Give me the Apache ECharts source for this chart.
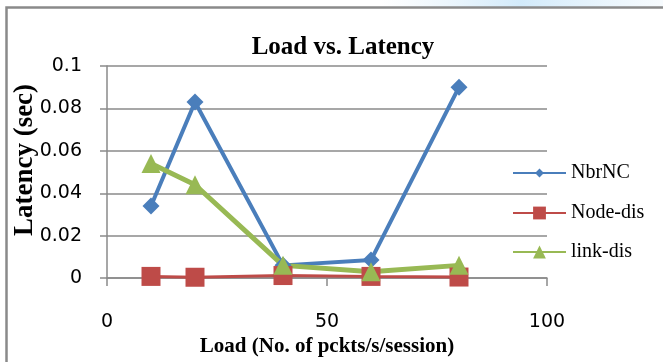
<!DOCTYPE html>
<html>
<head>
<meta charset="utf-8">
<script src="https://cdn.jsdelivr.net/npm/echarts@6/dist/echarts.min.js"></script>
<style>
  html, body { margin: 0; padding: 0; background: #ffffff; }
  #chart { width: 663px; height: 362px; }
</style>
</head>
<body>
<div id="chart"></div>
<script>
// Load (packets/s/session) on the x axis, latency in seconds on the y axis
const loads = [10, 20, 40, 60, 80];
const nbrNC = [0.034, 0.083, 0.006, 0.0085, 0.090];
const nodeDis = [0.0008, 0.0004, 0.0012, 0.0008, 0.0005];
const linkDis = [0.054, 0.044, 0.006, 0.003, 0.006];

const seriesNames = ['NbrNC', 'Node-dis', 'link-dis'];
const xTicks = { min: 0, max: 100, interval: 50 };
const yTicks = { min: 0, max: 0.1, interval: 0.02 };

const GRAY = '#8a8a8a';
const SERIF = '"Liberation Serif", "Times New Roman", serif';
const SANS = '"DejaVu Sans", Arial, sans-serif';

function pairs(ys) { return loads.map((x, i) => [x, ys[i]]); }

const chart = echarts.init(document.getElementById('chart'));

const legendBase = {
  orient: 'vertical',
  left: 507,
  itemWidth: 53,
  textStyle: { fontFamily: SERIF, fontSize: 20, color: '#000' }
};

chart.setOption({
  animation: false,
  backgroundColor: '#ffffff',
  title: {
    text: 'Load vs. Latency',
    left: 338,
    textAlign: 'center',
    top: 30,
    textStyle: { fontFamily: SERIF, fontSize: 25, fontWeight: 'bold', color: '#000' }
  },
  graphic: [
    {
      // faint light-blue glow along the top edge
      type: 'rect',
      shape: { x: 380, y: 0, width: 283, height: 7 },
      style: {
        fill: new echarts.graphic.LinearGradient(0, 0, 1, 0, [
          { offset: 0, color: 'rgba(215,236,250,0)' },
          { offset: 0.5, color: 'rgba(205,232,250,0.9)' },
          { offset: 1, color: 'rgba(215,236,250,0.2)' }
        ])
      },
      silent: true
    },
    {
      // chart frame (top and left edges)
      type: 'polyline',
      shape: { points: [[6.5, 365], [6.5, 7.5], [666, 7.5]] },
      style: { stroke: GRAY, lineWidth: 2.5, fill: null },
      silent: true
    },
    {
      type: 'text',
      x: 25,
      y: 160,
      rotation: Math.PI / 2,
      style: {
        text: 'Latency (sec)',
        fontFamily: SERIF,
        fontSize: 27,
        fontWeight: 'bold',
        fill: '#000',
        align: 'center',
        verticalAlign: 'middle'
      },
      silent: true
    }
  ],
  legend: [
    Object.assign({}, legendBase, { top: 158, itemHeight: 11, data: [seriesNames[0]] }),
    Object.assign({}, legendBase, { top: 198, itemHeight: 16, data: [seriesNames[1]] }),
    Object.assign({}, legendBase, { top: 237, itemHeight: 16, data: [seriesNames[2]] })
  ],
  grid: { left: 107, right: 116, top: 66, bottom: 74, containLabel: false },
  xAxis: {
    type: 'value',
    min: xTicks.min,
    max: xTicks.max,
    interval: xTicks.interval,
    name: 'Load (No. of pckts/s/session)',
    nameLocation: 'middle',
    nameGap: 53,
    nameTextStyle: { fontFamily: SERIF, fontSize: 21, fontWeight: 'bold', color: '#000' },
    axisLine: { show: true, lineStyle: { color: GRAY, width: 1.5 } },
    axisTick: { show: true, length: 8, lineStyle: { color: GRAY, width: 1.5 } },
    axisLabel: { margin: 34, fontFamily: SANS, fontSize: 19, color: '#000' },
    splitLine: { show: false }
  },
  yAxis: {
    type: 'value',
    min: yTicks.min,
    max: yTicks.max,
    interval: yTicks.interval,
    axisLine: { show: true, lineStyle: { color: GRAY, width: 1.5 } },
    axisTick: { show: true, length: 7, lineStyle: { color: GRAY, width: 1.5 } },
    axisLabel: { margin: 25, fontFamily: SANS, fontSize: 19, color: '#000' },
    splitLine: { show: true, lineStyle: { color: GRAY, width: 1.5 } }
  },
  series: [
    {
      name: seriesNames[0],
      type: 'line',
      data: pairs(nbrNC),
      symbol: 'diamond',
      symbolSize: 17,
      color: '#4A7EBB',
      lineStyle: { width: 4 }
    },
    {
      name: seriesNames[1],
      type: 'line',
      data: pairs(nodeDis),
      symbol: 'rect',
      symbolSize: 19,
      color: '#BE4B48',
      lineStyle: { width: 3 }
    },
    {
      name: seriesNames[2],
      type: 'line',
      data: pairs(linkDis),
      symbol: 'triangle',
      symbolSize: 19,
      color: '#98B954',
      lineStyle: { width: 5 }
    }
  ]
});
</script>
</body>
</html>
